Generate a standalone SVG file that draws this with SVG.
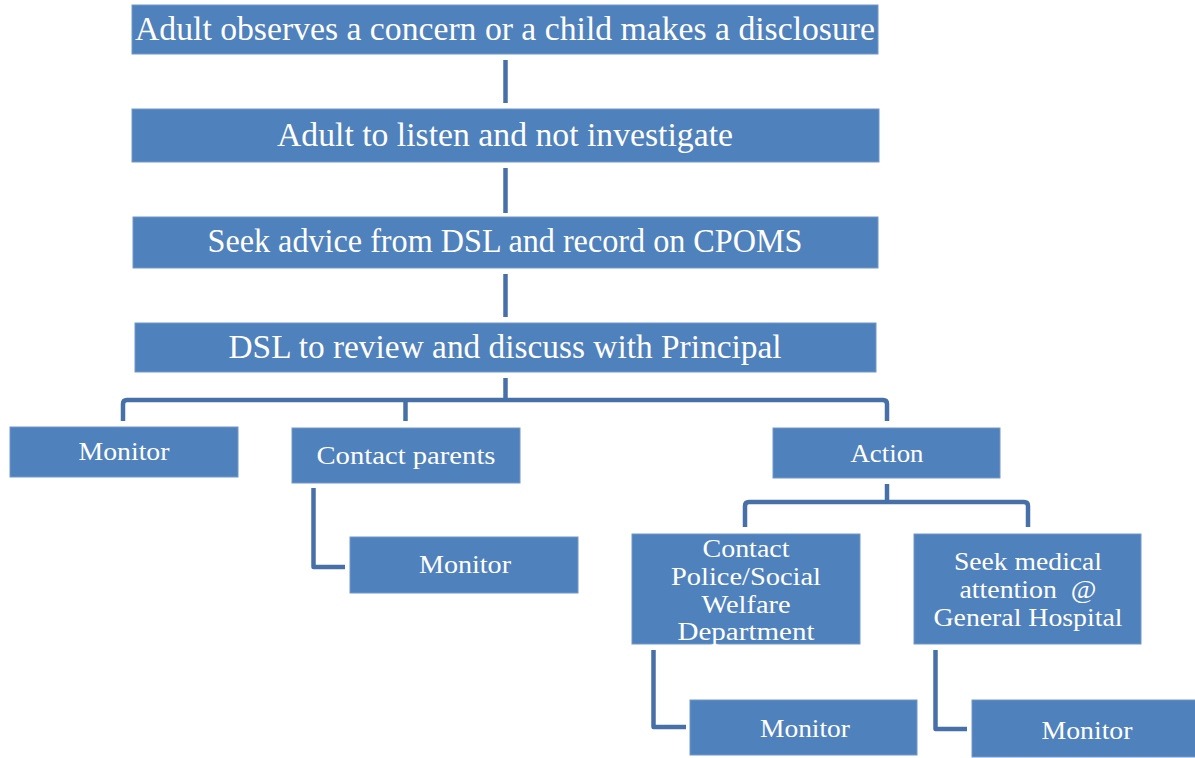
<svg xmlns="http://www.w3.org/2000/svg" width="1195" height="758" viewBox="0 0 1195 758">
<style>
.box{fill:#4F81BD;stroke:#7398C9;stroke-width:1}
.t{fill:#FFFFFF;font-family:"Liberation Serif","DejaVu Serif",serif;text-anchor:middle;white-space:pre}
.big{font-size:33px}
.sm{font-size:26px}
.c{fill:none;stroke:#4770A8;stroke-width:4.5;stroke-linejoin:round;stroke-linecap:butt}
</style>
<rect width="1195" height="758" fill="#FFFFFF"/>
<g id="connectors">
<path class="c" d="M505.5,60 V103"/>
<path class="c" d="M505.5,168 V213"/>
<path class="c" d="M505.5,274 V317"/>
<path class="c" d="M505.5,378 V400"/>
<path class="c" d="M123,421 V404 Q123,400 127,400 H883 Q887,400 887,404 V421"/>
<path class="c" d="M405.5,400 V421"/>
<path class="c" d="M887,484 V502"/>
<path class="c" d="M745,527 V506 Q745,502 749,502 H1024 Q1028,502 1028,506 V527"/>
<path class="c" d="M313.5,488 V567 H345"/>
<path class="c" d="M653.5,650 V727 H686"/>
<path class="c" d="M935.5,650 V729 H967"/>
</g>
<g id="n1"><rect class="box" x="132" y="5" width="746" height="49"/><text class="t big" x="505" y="40" textLength="740" lengthAdjust="spacingAndGlyphs">Adult observes a concern or a child makes a disclosure</text></g>
<g id="n2"><rect class="box" x="132" y="109" width="747" height="53"/><text class="t big" x="505" y="146" textLength="456" lengthAdjust="spacingAndGlyphs">Adult to listen and not investigate</text></g>
<g id="n3"><rect class="box" x="133" y="217" width="745" height="51"/><text class="t big" x="505" y="252" textLength="595" lengthAdjust="spacingAndGlyphs">Seek advice from DSL and record on CPOMS</text></g>
<g id="n4"><rect class="box" x="135" y="323" width="741" height="49"/><text class="t big" x="505" y="358" textLength="553" lengthAdjust="spacingAndGlyphs">DSL to review and discuss with Principal</text></g>
<g id="n5"><rect class="box" x="10" y="427" width="228" height="50"/><text class="t sm" x="124" y="460" textLength="91" lengthAdjust="spacingAndGlyphs">Monitor</text></g>
<g id="n6"><rect class="box" x="292" y="428" width="228" height="55"/><text class="t sm" x="406" y="464" textLength="179" lengthAdjust="spacingAndGlyphs">Contact parents</text></g>
<g id="n7"><rect class="box" x="350" y="537" width="228" height="56"/><text class="t sm" x="465" y="573" textLength="92" lengthAdjust="spacingAndGlyphs">Monitor</text></g>
<g id="n8"><rect class="box" x="773" y="428" width="227" height="50"/><text class="t sm" x="887" y="462" textLength="73" lengthAdjust="spacingAndGlyphs">Action</text></g>
<g id="n9"><rect class="box" x="632" y="534" width="228" height="110"/>
<text class="t sm" x="746" y="557" textLength="87" lengthAdjust="spacingAndGlyphs">Contact</text>
<text class="t sm" x="746" y="585" textLength="150" lengthAdjust="spacingAndGlyphs">Police/Social</text>
<text class="t sm" x="746" y="613" textLength="89" lengthAdjust="spacingAndGlyphs">Welfare</text>
<text class="t sm" x="746" y="640" textLength="137" lengthAdjust="spacingAndGlyphs">Department</text></g>
<g id="n10"><rect class="box" x="914" y="534" width="227" height="110"/>
<text class="t sm" x="1028" y="570" textLength="148" lengthAdjust="spacingAndGlyphs">Seek medical</text>
<text class="t sm" x="1028" y="598" textLength="137" lengthAdjust="spacingAndGlyphs" xml:space="preserve">attention  @</text>
<text class="t sm" x="1028" y="626" textLength="189" lengthAdjust="spacingAndGlyphs">General Hospital</text></g>
<g id="n11"><rect class="box" x="690" y="700" width="227" height="55"/><text class="t sm" x="805" y="737" textLength="90" lengthAdjust="spacingAndGlyphs">Monitor</text></g>
<g id="n12"><rect class="box" x="972" y="700" width="230" height="57"/><text class="t sm" x="1087" y="739" textLength="91" lengthAdjust="spacingAndGlyphs">Monitor</text></g>
</svg>
